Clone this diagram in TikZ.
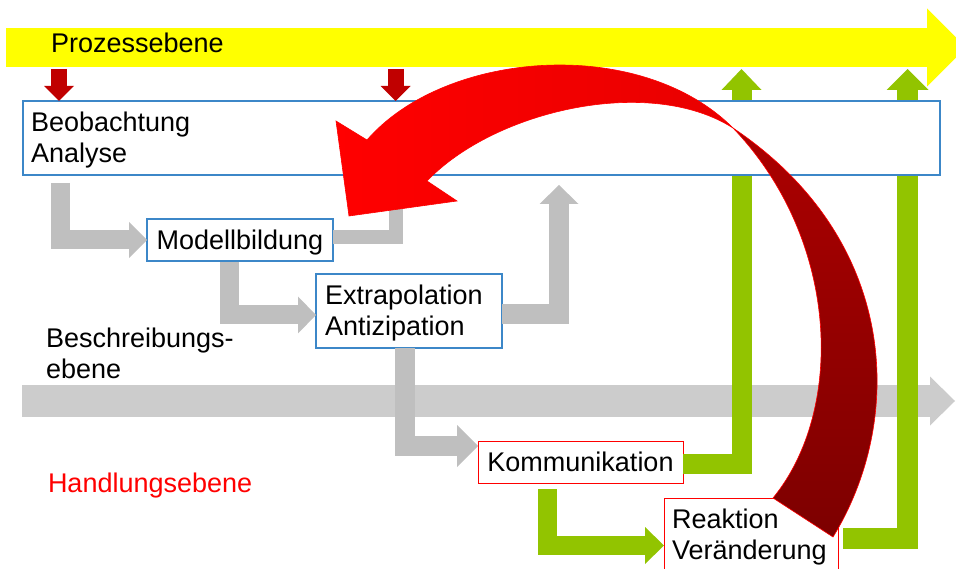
\documentclass[tikz,border=0pt]{standalone}
\usepackage{fontspec}
\setmainfont{Liberation Sans}
\usetikzlibrary{arrows.meta}
\definecolor{yel}{RGB}{255,255,0}
\definecolor{dred}{RGB}{192,0,0}
\definecolor{grn}{RGB}{146,196,0}
\definecolor{grayA}{RGB}{191,191,191}
\definecolor{grayB}{RGB}{204,204,204}
\definecolor{boxblue}{RGB}{60,135,200}
\definecolor{brightA}{RGB}{255,0,0}
\definecolor{brightB}{RGB}{232,0,0}
\definecolor{darkA}{RGB}{172,0,0}
\definecolor{darkB}{RGB}{125,0,0}
\newcommand{\ppst}{\rule[-5.7pt]{0pt}{30.1pt}}
\begin{document}
\begin{tikzpicture}[x=1pt,y=-1pt,
  every node/.style={font=\fontsize{27}{31}\selectfont, inner sep=0pt, outer sep=0pt},
  bluebox/.style={draw=boxblue, line width=1.1pt, fill=white},
  redbox/.style={draw=red, line width=0.9pt, fill=white},
  blockarrow/.style={line join=miter, line cap=butt},
  grayarr/.style={blockarrow, draw=grayA, line width=19pt},
  greenarr/.style={blockarrow, draw=grn, line width=20pt},
  redarr/.style={blockarrow, draw=dred, line width=16pt, -{Triangle[length=15pt,width=30pt,line width=0pt]}},
  label/.style={text=black}
]
\useasboundingbox (0,0) rectangle (956,569);

% coordinates for free ends
\coordinate (ys) at (6,47.5);
\coordinate (ye) at (966,47.5);
\coordinate (bs) at (22,401);
\coordinate (be) at (955,401);
\coordinate (r1) at (59,69);
\coordinate (r2) at (395.5,69);
\coordinate (g1) at (741.5,69);
\coordinate (g2) at (907.5,69);
\coordinate (g4) at (559,185);

% Prozessebene arrow
\draw[blockarrow, draw=yel, line width=39pt, -{Triangle[length=39pt,width=78pt,line width=0pt]}] (ys) -- (ye);
\node[anchor=base west] (proz) at (51,53) {Prozessebene};

% Beschreibungsebene arrow
\draw[blockarrow, draw=grayB, line width=32pt, -{Triangle[length=25pt,width=49pt,line width=0pt]}] (bs) -- (be);

% boxes (drawn first as coordinates for connectors; green shafts go behind beo)
\path (481.5,138) coordinate (beoc);

% green arrows (behind the observation box)
\node[redbox, minimum width=205pt, minimum height=42pt, text height=24.4pt, text depth=5.7pt] (kom) at (580.5,462) {Kommunikation};
\node[redbox, minimum width=174pt, minimum height=74pt, text width=158pt, align=left] (rea) at (751,535) {\ppst Reaktion\\\ppst Veränderung};

\draw[greenarr, -{Triangle[length=21pt,width=40pt,line width=0pt]}] ([yshift=-1.5pt]kom.east) -| (g1);
\draw[greenarr, line width=21pt, -{Triangle[length=21pt,width=42pt,line width=0pt]}] ([xshift=5pt,yshift=-3.5pt]rea.east) -| (g2);
\draw[greenarr, line width=19pt, -{Triangle[length=19pt,width=37pt,line width=0pt]}] ([xshift=-33pt,yshift=-6pt]kom.south) |- ([yshift=-10.5pt]rea.west);

\node[bluebox, minimum width=917pt, minimum height=74pt, text width=901pt, align=left] (beo) at (beoc) {\ppst Beobachtung\\\ppst Analyse};
\node[bluebox, minimum width=186pt, minimum height=42pt, text height=24.4pt, text depth=5.7pt] (mod) at (240,240) {Modellbildung};
\node[bluebox, minimum width=186pt, minimum height=74pt, text width=168pt, align=left] (ext) at (409,311) {\ppst Extrapolation\\\ppst Antizipation};

% red arrows from the process level
\draw[redarr] (r1) -- (r1 |- beo.north);
\draw[redarr] (r2) -- (r2 |- beo.north);

% grey elbow arrows
\draw[grayarr, -{Triangle[length=18pt,width=36pt,line width=0pt]}] ([xshift=37pt,yshift=-8pt]beo.south west) |- (mod.west);
\draw[grayarr, line width=14pt, -{Triangle[length=16pt,width=30pt,line width=0pt]}] ([yshift=3pt]mod.east) -| ([xshift=-86pt]beo.south);
\draw[grayarr, -{Triangle[length=18pt,width=37pt,line width=0pt]}] ([xshift=-10.5pt,yshift=-1pt]mod.south) |- ([yshift=-4pt]ext.west);
\draw[grayarr, line width=20pt, -{Triangle[length=19pt,width=39pt,line width=0pt]}] ([yshift=-3.5pt]ext.east) -| (g4);
\draw[grayarr, line width=20pt, -{Triangle[length=21pt,width=42pt,line width=0pt]}] ([xshift=-4pt]ext.south) |- ([yshift=16pt]kom.west);

% level labels
\node[anchor=north west, align=left] (besch) at (46,322.6) {\ppst Beschreibungs-\\\ppst ebene};
\node[anchor=base west, text=red] (hand) at (48,492) {Handlungsebene};

% curved feedback arrow: back (dark) part
\path[draw=red, line width=0.6pt, top color=darkA, bottom color=darkB]
  (733,128) .. controls (900,240) and (905,420) .. (833,537)
  -- (773,498) .. controls (845,410) and (840,240) .. (733,128) -- cycle;
% front (bright) part with head
\path[draw=red, line width=0.6pt, left color=brightA, right color=brightB]
  (733,128) .. controls (640,35) and (445,50) .. (367,140)
  -- (336,121) -- (349,216) -- (457,201) -- (427,181)
  .. controls (495,110) and (650,75) .. (733,128) -- cycle;
\end{tikzpicture}
\end{document}
